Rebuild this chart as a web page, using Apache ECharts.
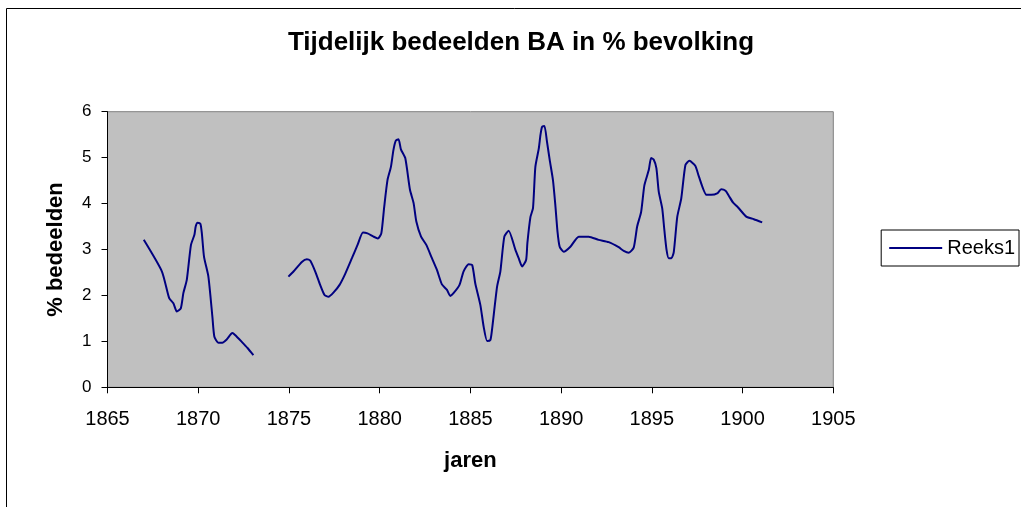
<!DOCTYPE html>
<html>
<head>
<meta charset="utf-8">
<script src="https://cdn.jsdelivr.net/npm/echarts@6/dist/echarts.min.js"></script>
<style>
  html, body { margin: 0; padding: 0; background: #fff; }
  #main { width: 1021px; height: 507px; }
</style>
</head>
<body>
<div id="main"></div>
<script>
// jaartallen (fractioneel) en waarden
var years1 = [1867.0, 1868.0, 1868.4, 1868.63, 1868.82, 1869.04, 1869.18, 1869.37, 1869.6, 1869.79,
    1869.86, 1869.97, 1870.12, 1870.2, 1870.32, 1870.56, 1870.78, 1870.89, 1871.11, 1871.33,
    1871.57, 1871.88, 1872.03, 1872.4, 1872.73, 1873.04];
var values1 = [3.21, 2.52, 1.94, 1.83, 1.65, 1.72, 2.05, 2.34, 3.10, 3.32,
    3.50, 3.58, 3.56, 3.35, 2.84, 2.41, 1.54, 1.10, 0.97, 0.97,
    1.04, 1.18, 1.14, 0.99, 0.85, 0.70];

var years2 = [1874.97, 1875.25, 1875.71, 1875.99, 1876.17, 1876.45, 1876.72, 1876.96, 1877.18, 1877.45,
    1877.79, 1878.1, 1878.47, 1878.78, 1879.08, 1879.33, 1879.66, 1879.9, 1880.09, 1880.25,
    1880.43, 1880.62, 1880.76, 1880.89, 1881.04, 1881.17, 1881.41, 1881.67, 1881.87, 1882.02,
    1882.28, 1882.57, 1882.88, 1883.16, 1883.43, 1883.71, 1883.89, 1884.07, 1884.4, 1884.62,
    1884.9, 1885.1, 1885.27, 1885.55, 1885.73, 1885.92, 1886.1, 1886.19, 1886.47, 1886.65,
    1886.87, 1887.11, 1887.48, 1887.66, 1887.85, 1888.07, 1888.14, 1888.31, 1888.45, 1888.58,
    1888.77, 1888.86, 1888.95, 1889.08, 1889.22, 1889.37, 1889.55, 1889.68, 1889.8, 1889.92,
    1890.14, 1890.51, 1890.97, 1891.52, 1892.07, 1892.62, 1893.17, 1893.45, 1893.73, 1894.0,
    1894.19, 1894.41, 1894.59, 1894.83, 1894.96, 1895.1, 1895.25, 1895.38, 1895.57, 1895.69,
    1895.81, 1895.93, 1896.08, 1896.21, 1896.4, 1896.62, 1896.85, 1897.07, 1897.4, 1897.59,
    1898.01, 1898.27, 1898.6, 1898.82, 1899.06, 1899.24, 1899.48, 1899.74, 1900.22, 1900.62,
    1901.08];
var values2 = [2.41, 2.52, 2.73, 2.79, 2.76, 2.52, 2.23, 2.01, 1.97, 2.06,
    2.23, 2.47, 2.81, 3.10, 3.37, 3.35, 3.28, 3.24, 3.35, 3.93,
    4.51, 4.80, 5.17, 5.37, 5.40, 5.18, 4.99, 4.30, 4.01, 3.61,
    3.28, 3.10, 2.81, 2.55, 2.24, 2.12, 1.99, 2.05, 2.23, 2.52,
    2.68, 2.66, 2.26, 1.79, 1.32, 1.01, 1.03, 1.25, 2.19, 2.52,
    3.28, 3.41, 2.99, 2.81, 2.63, 2.77, 3.14, 3.71, 3.90, 4.80,
    5.20, 5.49, 5.67, 5.69, 5.35, 4.95, 4.51, 3.97, 3.39, 3.06,
    2.95, 3.06, 3.28, 3.28, 3.21, 3.16, 3.05, 2.97, 2.93, 3.04,
    3.50, 3.82, 4.40, 4.73, 4.99, 4.96, 4.77, 4.26, 3.90, 3.42,
    2.99, 2.81, 2.81, 2.95, 3.71, 4.11, 4.84, 4.93, 4.82, 4.59,
    4.19, 4.19, 4.22, 4.31, 4.28, 4.17, 4.02, 3.92, 3.71, 3.66,
    3.59];

var xTicks = [1865, 1870, 1875, 1880, 1885, 1890, 1895, 1900, 1905];
var seriesName = 'Reeks1';

function buildData() {
    var d = [];
    for (var i = 0; i < years1.length; i++) {
        d.push([years1[i], values1[i]]);
    }
    // onderbreking tussen 1873 en 1875
    d.push([1874, null]);
    for (var j = 0; j < years2.length; j++) {
        d.push([years2[j], values2[j]]);
    }
    return d;
}

var myChart = echarts.init(document.getElementById('main'));

var font = 'Liberation Sans, Arial, sans-serif';

var option = {
    animation: false,
    backgroundColor: '#ffffff',
    title: {
        text: 'Tijdelijk bedeelden BA in % bevolking',
        left: 516,
        textAlign: 'center',
        top: 25,
        textStyle: { fontFamily: font, fontSize: 26, fontWeight: 'bold', color: '#000' }
    },
    legend: {
        data: [seriesName],
        right: 2,
        top: 230,
        orient: 'vertical',
        borderColor: '#000',
        borderWidth: 1,
        padding: [8, 4, 8, 8],
        icon: 'rect',
        itemWidth: 53,
        itemHeight: 2,
        textStyle: { fontFamily: font, fontSize: 20, color: '#000' }
    },
    grid: {
        left: 107.5,
        top: 111.7,
        right: 187.7,
        bottom: 119.7,
        show: true,
        backgroundColor: '#c0c0c0',
        borderColor: '#808080',
        borderWidth: 1
    },
    xAxis: {
        type: 'value',
        min: xTicks[0],
        max: xTicks[xTicks.length - 1],
        interval: 5,
        name: 'jaren',
        nameLocation: 'middle',
        nameGap: 63,
        nameTextStyle: { fontFamily: font, fontSize: 22, fontWeight: 'bold', color: '#000' },
        axisLine: { lineStyle: { color: '#000', width: 1 } },
        axisTick: { show: true, length: 6, lineStyle: { color: '#000' } },
        axisLabel: {
            fontFamily: font, fontSize: 20, color: '#000', margin: 22,
            formatter: function (v) { return String(v); }
        },
        splitLine: { show: false }
    },
    yAxis: {
        type: 'value',
        min: 0,
        max: 6,
        interval: 1,
        name: '% bedeelden',
        nameLocation: 'middle',
        nameGap: 41,
        nameTextStyle: { fontFamily: font, fontSize: 22, fontWeight: 'bold', color: '#000' },
        axisLine: { show: true, lineStyle: { color: '#000', width: 1 } },
        axisTick: { show: true, length: 6, lineStyle: { color: '#000' } },
        axisLabel: { fontFamily: font, fontSize: 17, color: '#000', margin: 16 },
        splitLine: { show: false }
    },
    series: [
        {
            name: seriesName,
            type: 'line',
            symbol: 'none',
            smooth: 0.2,
            connectNulls: false,
            lineStyle: { color: '#000080', width: 2 },
            itemStyle: { color: '#000080' },
            data: buildData()
        }
    ],
    graphic: [
        {
            type: 'rect',
            shape: { x: 6.5, y: 8.5, width: 1100, height: 600 },
            style: { fill: 'none', stroke: '#000', lineWidth: 1 },
            silent: true
        }
    ]
};

myChart.setOption(option);
</script>
</body>
</html>
